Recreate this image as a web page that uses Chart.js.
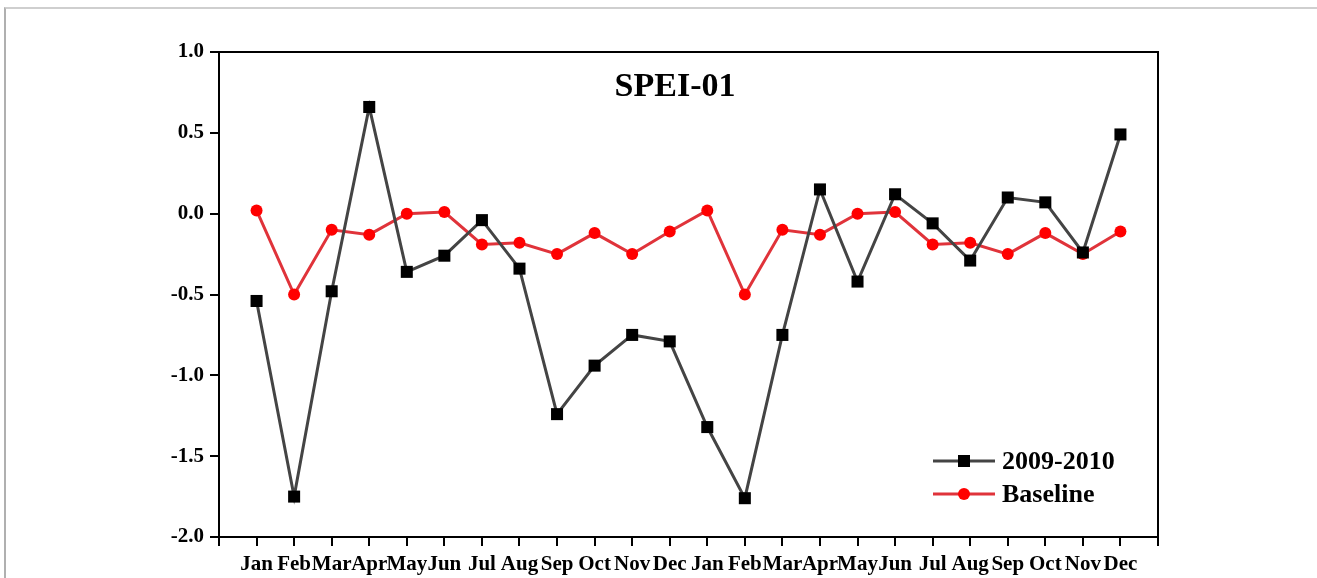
<!DOCTYPE html>
<html>
<head>
<meta charset="utf-8">
<script src="https://cdn.jsdelivr.net/npm/chart.js@4/dist/chart.umd.min.js"></script>
<style>
    html, body { margin: 0; padding: 0; background: #fff; }
    #wrap { position: relative; width: 1317px; height: 578px; }
    #frame { position: absolute; left: 4px; top: 7px; right: 0; bottom: 0;
             border-top: 2px solid #cfcfcf; border-left: 2px solid #b0b0b0; }
    canvas { position: absolute; left: 0; top: 0; }
</style>
</head>
<body>
<div id="wrap">
    <div id="frame"></div>
    <canvas id="spei_chart" width="1317" height="578"></canvas>
</div>
<script>
const months = ['Jan', 'Feb', 'Mar', 'Apr', 'May', 'Jun', 'Jul', 'Aug', 'Sep', 'Oct', 'Nov', 'Dec',
                'Jan', 'Feb', 'Mar', 'Apr', 'May', 'Jun', 'Jul', 'Aug', 'Sep', 'Oct', 'Nov', 'Dec'];

const spei_2009_2010 = [-0.54, -1.75, -0.48, 0.66, -0.36, -0.26, -0.04, -0.34, -1.24, -0.94, -0.75, -0.79,
                        -1.32, -1.76, -0.75, 0.15, -0.42, 0.12, -0.06, -0.29, 0.10, 0.07, -0.24, 0.49];

const spei_baseline = [0.02, -0.50, -0.10, -0.13, 0.00, 0.01, -0.19, -0.18, -0.25, -0.12, -0.25, -0.11,
                       0.02, -0.50, -0.10, -0.13, 0.00, 0.01, -0.19, -0.18, -0.25, -0.12, -0.25, -0.11];

const y_ticks = [-2.0, -1.5, -1.0, -0.5, 0.0, 0.5, 1.0];

let colors = {
    'black': '#000000',
    'line_gray': '#444444',
    'red': '#ff0000',
    'red_line': '#e0333a',
}

const serif = "'Liberation Serif', 'DejaVu Serif', serif";

// month number -> point
const toPoints = (arr) => arr.map((v, i) => ({ x: i + 1, y: v }));

// frame, title and legend drawn inside the plot box
const framePlugin = {
    id: 'framePlugin',
    afterDraw(chart) {
        const ctx = chart.ctx;
        const a = chart.chartArea;
        ctx.save();
        ctx.strokeStyle = colors.black;
        ctx.lineWidth = 2;
        ctx.strokeRect(a.left, a.top, a.right - a.left, a.bottom - a.top);

        ctx.fillStyle = colors.black;
        ctx.font = `bold 34px ${serif}`;
        ctx.textAlign = 'center';
        ctx.textBaseline = 'middle';
        ctx.fillText('SPEI-01', 675, 87);

        // legend
        const rows = [
            { y: 461, ds: chart.data.datasets[0] },
            { y: 494, ds: chart.data.datasets[1] },
        ];
        rows.forEach(r => {
            ctx.strokeStyle = r.ds.borderColor;
            ctx.lineWidth = 3;
            ctx.beginPath();
            ctx.moveTo(933, r.y);
            ctx.lineTo(995, r.y);
            ctx.stroke();
            ctx.fillStyle = r.ds.pointBackgroundColor;
            if (r.ds.pointStyle === 'rect') {
                ctx.fillRect(958, r.y - 6, 12, 12);
            } else {
                ctx.beginPath();
                ctx.arc(964, r.y, 6, 0, Math.PI * 2);
                ctx.fill();
            }
            ctx.fillStyle = colors.black;
            ctx.font = `bold 26px ${serif}`;
            ctx.textAlign = 'left';
            ctx.textBaseline = 'middle';
            ctx.fillText(r.ds.label, 1002, r.y + 1);
        });
        ctx.restore();
    }
};

new Chart(document.getElementById('spei_chart'), {
    type: 'line',
    data: {
        datasets: [{
            label: '2009-2010',
            data: toPoints(spei_2009_2010),
            borderColor: colors.line_gray,
            borderWidth: 3,
            pointStyle: 'rect',
            pointRadius: 8.5,
            pointBackgroundColor: colors.black,
            pointBorderColor: colors.black,
            pointBorderWidth: 0,
            tension: 0,
        },
        {
            label: 'Baseline',
            data: toPoints(spei_baseline),
            borderColor: colors.red_line,
            borderWidth: 3,
            pointStyle: 'circle',
            pointRadius: 6,
            pointBackgroundColor: colors.red,
            pointBorderColor: colors.red,
            pointBorderWidth: 0,
            tension: 0,
        }]
    },
    options: {
        responsive: false,
        animation: false,
        layout: {
            padding: { left: 0, top: 52, right: 159, bottom: 0 }
        },
        scales: {
            x: {
                type: 'linear',
                min: 0,
                max: 25,
                afterFit: (scale) => { scale.height = 41; },
                afterBuildTicks: (scale) => {
                    scale.ticks = [];
                    for (let i = 0; i <= 25; i++) scale.ticks.push({ value: i });
                },
                border: { display: false },
                grid: {
                    drawOnChartArea: false,
                    drawTicks: true,
                    tickLength: 9,
                    color: colors.black,
                    lineWidth: 2,
                },
                ticks: {
                    autoSkip: false,
                    maxRotation: 0,
                    padding: 6,
                    color: colors.black,
                    font: { family: serif, size: 21, weight: 'bold' },
                    callback: (v) => (v >= 1 && v <= 24) ? months[v - 1] : '',
                }
            },
            y: {
                min: -2.0,
                max: 1.0,
                afterFit: (scale) => { scale.width = 219; },
                afterBuildTicks: (scale) => {
                    scale.ticks = y_ticks.map(v => ({ value: v }));
                },
                border: { display: false },
                grid: {
                    drawOnChartArea: false,
                    drawTicks: true,
                    tickLength: 9,
                    color: colors.black,
                    lineWidth: 2,
                },
                ticks: {
                    padding: 6,
                    color: colors.black,
                    font: { family: serif, size: 21, weight: 'bold' },
                    callback: (v) => v.toFixed(1),
                }
            }
        },
        plugins: {
            legend: { display: false },
            tooltip: { enabled: false },
            title: { display: false },
        },
    },
    plugins: [framePlugin]
});
</script>
</body>
</html>
